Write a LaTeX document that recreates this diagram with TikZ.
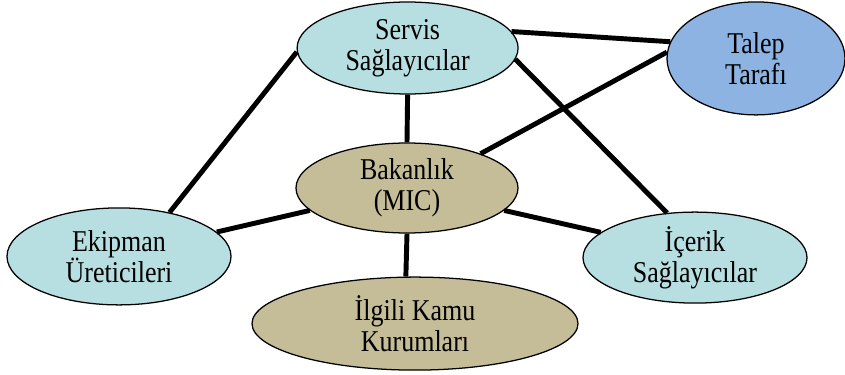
\documentclass[tikz,border=0pt]{standalone}
\usepackage{fontspec}
\setmainfont{Liberation Serif}[FakeStretch=0.86]
\usetikzlibrary{shapes.geometric}
\definecolor{acik}{HTML}{B7DEE1}
\definecolor{mavi}{HTML}{8DB3E2}
\definecolor{haki}{HTML}{C4BD97}
\tikzset{
  kurum/.style={ellipse,draw,line width=0.9pt,inner sep=0pt,align=center,
    font=\fontsize{21.5}{22}\selectfont},
  bag/.style={line width=3.5pt}
}

\begin{document}
\begin{tikzpicture}
\useasboundingbox (0,0) rectangle (21.125,9.35);
\node[kurum,fill=acik,minimum width=5.525cm,minimum height=2.3cm] (servis) at (10.19,8.15) {Servis\\Sağlayıcılar};
\node[kurum,fill=mavi,minimum width=4.45cm,minimum height=2.825cm] (talep) at (18.9,7.89) {Talep\\Tarafı};
\node[kurum,fill=haki,minimum width=5.55cm,minimum height=2.25cm] (bakanlik) at (10.175,4.65) {Bakanlık\\(MIC)};
\node[kurum,fill=acik,minimum width=5.6cm,minimum height=2.425cm] (ekipman) at (2.975,2.94) {Ekipman\\Üreticileri};
\node[kurum,fill=acik,minimum width=5.6cm,minimum height=2.275cm] (icerik) at (17.375,2.91) {İçerik\\Sağlayıcılar};
\node[kurum,fill=haki,minimum width=8.15cm,minimum height=2.325cm] (ilgili) at (10.375,1.26) {İlgili Kamu\\Kurumları};
\path[bag] (servis.9) edge (talep.169)
  (servis.182) edge (ekipman.41)
  (servis.270) edge (bakanlik.90)
  (servis.354) edge (icerik.122)
  (talep.176) edge (bakanlik.25)
  (bakanlik.193) edge (ekipman.14)
  (bakanlik.347) edge (icerik.165)
  (bakanlik.270) edge (ilgili.101);
\end{tikzpicture}
\end{document}
